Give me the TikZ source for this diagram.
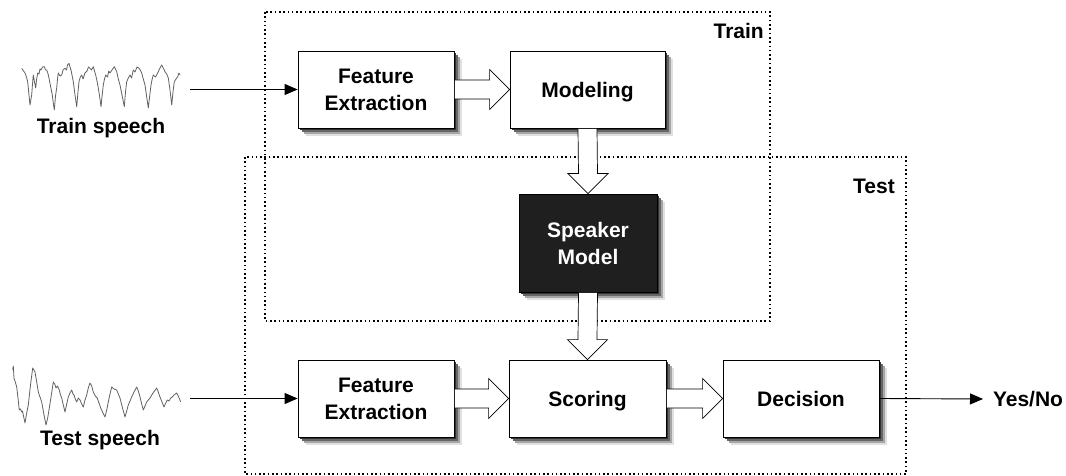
\documentclass[tikz,border=0pt]{standalone}
\usepackage{fontspec}
\newfontfamily\lsans{Liberation Sans}
\usetikzlibrary{arrows.meta,calc,shadows}
\begin{document}
\begin{tikzpicture}[x=1pt,y=-1pt,
  box/.style={draw=black, line width=0.8pt, fill=white, minimum width=156pt, minimum height=77pt,
    align=center, inner sep=0pt, font=\lsans\bfseries\fontsize{21}{27}\selectfont,
    general shadow={fill=black!12, shadow xshift=8pt, shadow yshift=-8pt},
    general shadow={fill=black!35, shadow xshift=6pt, shadow yshift=-6pt},
    general shadow={fill=black!60, shadow xshift=4pt, shadow yshift=-4pt},
    general shadow={fill=black!80, shadow xshift=2pt, shadow yshift=-2pt}},
  darkbox/.style={box, fill=black!88, text=white},
  lbl/.style={inner sep=0pt, font=\lsans\bfseries\fontsize{21}{25}\selectfont},
  region/.style={line width=1.6pt, dash pattern=on 1.6pt off 2.7pt},
  hollow/.style={draw=black, line width=0.7pt, fill=white, line join=miter},
  thin/.style={line width=0.9pt, -{Triangle[length=13pt,width=11pt]}},
  wave/.style={black!62, line width=0.8pt, line join=round}]
\useasboundingbox (0,0) rectangle (1066,476);

% regions
\draw[region] (265,12) rectangle (770,321);
\draw[region] (245,157) rectangle (906,474);
\node[lbl, anchor=east] (trainlbl) at (764,31) {Train};
\node[lbl, anchor=east] (testlbl) at (895,186) {Test};

% blocks
\node[box] (fe1) at (376,89.5) {Feature\\Extraction};
\node[box, minimum width=155pt, text depth=0pt] (mod) at (587.5,89.5) {Modeling};
\node[darkbox, minimum width=138pt, minimum height=98pt] (spk) at (588,243) {Speaker\\Model};
\node[box] (fe2) at (376,398.5) {Feature\\Extraction};
\node[box, minimum width=157pt, text depth=0pt] (sc) at (587.5,398.5) {Scoring};
\node[box] (dec) at (801,398.5) {Decision};

% hollow arrows
\draw[hollow] ($(fe1.east)+(0.4,-9.5)$) -- ($(mod.west)+(-20,-9.5)$) -- ($(mod.west)+(-20,-20)$) -- (mod.west)
  -- ($(mod.west)+(-20,20)$) -- ($(mod.west)+(-20,9.5)$) -- ($(fe1.east)+(0.4,9.5)$);
\draw[hollow] ($(fe2.east)+(0.4,-9.5)$) -- ($(sc.west)+(-20,-9.5)$) -- ($(sc.west)+(-20,-20)$) -- (sc.west)
  -- ($(sc.west)+(-20,20)$) -- ($(sc.west)+(-20,9.5)$) -- ($(fe2.east)+(0.4,9.5)$);
\draw[hollow] ($(sc.east)+(0.4,-9.5)$) -- ($(dec.west)+(-20,-9.5)$) -- ($(dec.west)+(-20,-20)$) -- (dec.west)
  -- ($(dec.west)+(-20,20)$) -- ($(dec.west)+(-20,9.5)$) -- ($(sc.east)+(0.4,9.5)$);
\draw[hollow] ($(mod.south)+(-9.5,0.4)$) -- ($(spk.north)+(-9.5,-20)$) -- ($(spk.north)+(-20,-20)$) -- (spk.north)
  -- ($(spk.north)+(20,-20)$) -- ($(spk.north)+(9.5,-20)$) -- ($(mod.south)+(9.5,0.4)$);
\draw[hollow] ($(spk.south)+(-9.5,0.4)$) -- ($(sc.north)+(-9.5,-20)$) -- ($(sc.north)+(-20,-20)$) -- (sc.north)
  -- ($(sc.north)+(20,-20)$) -- ($(sc.north)+(9.5,-20)$) -- ($(spk.south)+(9.5,0.4)$);

% inputs / outputs
\coordinate (trin) at (190,89.5);
\coordinate (tein) at (190,398.5);
\draw[thin] (trin) -- (fe1.west);
\draw[thin] (tein) -- (fe2.west);
\node[lbl, anchor=west, outer xsep=10pt] (yn) at (983,399) {Yes/No};
\draw[thin] (dec.east) -- (yn.west);

\node[lbl] (trs) at (101,128) {Train speech};
\node[lbl] (tes) at (100,440) {Test speech};

% waveforms
\draw[wave] plot coordinates {(21.7,68.3) (23.5,71) (25,73) (26.5,77) (27.7,82) (29,95) (30,105) (30.8,100) (31.7,95) (32.5,84) (33.3,75) (34.5,82) (35.7,88) (36.5,80) (37.7,73) (39,74) (40,69) (41,70) (42.5,67) (44.3,66.7) (45.5,70) (46.7,70) (47.8,73) (49,78) (50.5,86) (52.3,95) (53.3,103) (54.3,110) (55.5,96) (56.7,88) (57.5,79) (58.3,73) (60,76) (61.7,75) (63,70) (65,68.3) (66.5,70) (67.5,65) (69,63.3) (70,67) (71,70) (72,75) (73.3,81.7) (75,95) (76.7,106.7) (78,92) (79,81.7) (80.3,77) (81.7,75) (83,79) (85,73) (87,71) (88.5,67) (90,68.3) (91.5,70) (93.3,66.7) (94.5,71) (95.7,75) (97,81) (98.3,88) (99.7,97) (101,106.7) (102.2,95) (103.3,85) (104.5,79) (105.7,75) (107.5,77) (108.8,71) (110,73) (112,70) (114.3,66.7) (115.5,69) (116.7,71.7) (118.3,79) (120,85) (122,95) (124.3,106.7) (125.5,92) (126.7,81.7) (128.3,78) (130,75) (131.5,78) (133.3,70) (135,72) (137,67) (139,68.3) (140.3,70) (141.7,73) (143.3,79) (145,85) (146.7,97) (148.3,108) (149.7,96) (151,85) (152.2,79) (153.3,75) (155.5,77) (157.7,73) (159.5,69) (161.7,65) (163.3,68) (165,71.7) (166.7,74) (168.3,78) (170,90) (171.7,105) (173,92) (174.3,81.7) (176,79) (177.7,76.7) (179,73) (180,75)};
\draw[wave] plot coordinates {(12.7,370) (13.3,366) (14,378) (15.3,382) (16.7,387) (18,398) (19.3,410) (20.5,409) (21.7,412) (22.5,411) (23.3,415) (25,423) (26.7,413) (28.3,405) (30.5,385) (32.7,368) (35,372) (36.7,382) (38.3,392) (40,397) (41.7,402) (44,415) (46,425) (47.7,418) (49.3,408) (51.5,394) (53.3,382) (54.7,384) (56,388) (57.5,386) (59.3,390) (60.5,395) (61.7,398) (63.3,405) (65,412) (66.7,404) (68.3,397) (70,393) (71.7,390) (73,394) (74,395) (75.3,399) (76.7,402) (78.3,398) (80,400) (81.7,404) (83.3,407) (85,400) (86.7,395) (88.3,388) (90,383) (91.7,386) (93.3,392) (95.3,396) (97.3,398) (99,403) (100.7,408) (103,413) (105,417) (106.7,410) (108.3,402) (110,394) (111.7,387) (114,389) (116.7,390) (118.3,394) (120,398) (122.5,408) (125,417) (126.7,411) (128.3,405) (130,401) (131.7,397) (134,392) (136.7,387) (138.3,391) (140,397) (141.7,404) (143.3,410) (145,406) (146.7,402) (148.3,400) (150,398) (153,393) (156.7,388) (158.3,392) (160,397) (162,402) (164,407) (165.7,403) (167.3,400) (169,401) (170.7,398) (172.3,397) (174,395) (176.7,393) (178.7,397) (180.7,402)};
\end{tikzpicture}
\end{document}
